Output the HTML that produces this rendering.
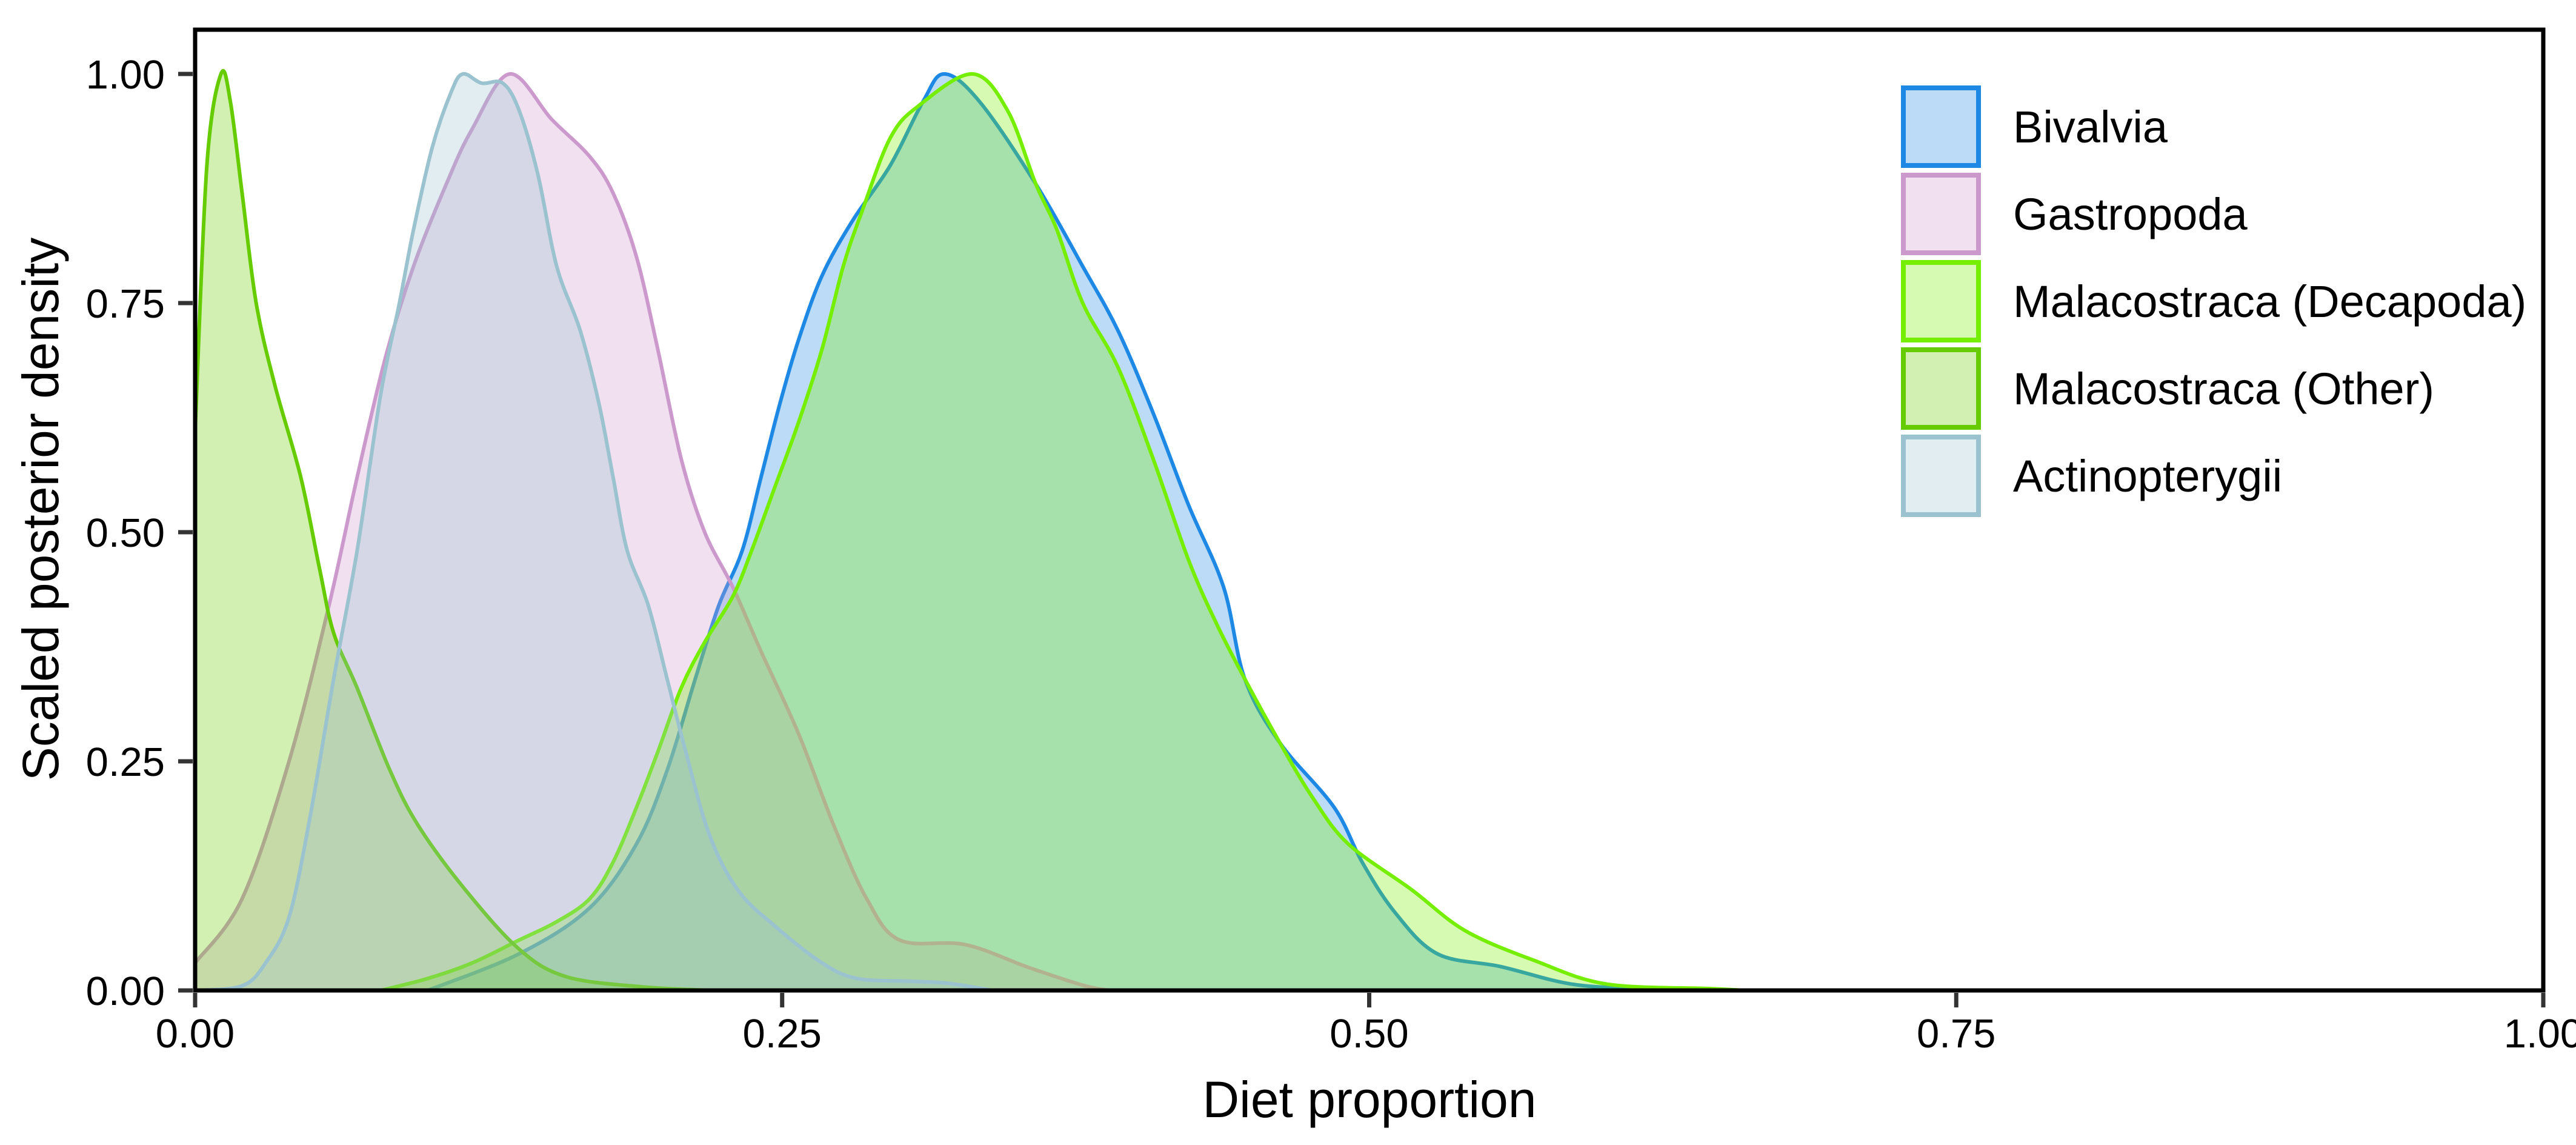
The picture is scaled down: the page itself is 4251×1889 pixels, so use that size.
<!DOCTYPE html>
<html><head><meta charset="utf-8"><style>
html,body{margin:0;padding:0;background:#fff;}
svg{display:block;font-family:"Liberation Sans",Arial,sans-serif;}
</style></head><body>
<svg id="chart" width="4251" height="1889" viewBox="0 0 4251 1889">
<g id="fills"></g>
<rect x="322" y="49" width="3875" height="1585" fill="none" stroke="#000" stroke-width="7"/>
<g id="axes"></g>
<text x="2260" y="1843" font-size="84" text-anchor="middle">Diet proportion</text>
<text transform="translate(96,840) rotate(-90)" font-size="84" text-anchor="middle">Scaled posterior density</text>
<g id="legend"></g>
</svg>
<script>
const seriesNames = ["Bivalvia","Gastropoda","Malacostraca (Decapoda)","Malacostraca (Other)","Actinopterygii"];
const bivalviaX = [0.099,0.138,0.168,0.188,0.201,0.213,0.223,0.233,0.241,0.249,0.257,0.267,0.28,0.296,0.31,0.319,0.334,0.358,0.378,0.393,0.408,0.423,0.438,0.447,0.462,0.485,0.497,0.511,0.529,0.556,0.586,0.615,0.64];
const bivalviaY = [0,0.04,0.09,0.16,0.24,0.34,0.42,0.48,0.56,0.64,0.71,0.78,0.84,0.9,0.97,1.0,0.97,0.88,0.79,0.72,0.63,0.53,0.44,0.34,0.27,0.2,0.14,0.085,0.04,0.026,0.007,0.002,0];
const gastroX = [0,0.02,0.04,0.057,0.069,0.081,0.093,0.107,0.118,0.134,0.152,0.168,0.178,0.188,0.197,0.207,0.217,0.229,0.241,0.257,0.272,0.286,0.3,0.328,0.355,0.379,0.39];
const gastroY = [0.03,0.1,0.25,0.42,0.56,0.69,0.79,0.88,0.94,1.0,0.95,0.91,0.87,0.8,0.7,0.58,0.5,0.44,0.37,0.28,0.18,0.1,0.055,0.05,0.025,0.005,0];
const decaX = [0.079,0.099,0.118,0.138,0.154,0.168,0.178,0.188,0.197,0.207,0.217,0.229,0.237,0.247,0.257,0.267,0.276,0.284,0.296,0.308,0.331,0.346,0.358,0.367,0.378,0.393,0.408,0.423,0.435,0.447,0.462,0.476,0.491,0.518,0.541,0.571,0.601,0.645,0.66];
const decaY = [0,0.013,0.03,0.055,0.075,0.1,0.14,0.2,0.26,0.33,0.38,0.43,0.48,0.55,0.62,0.7,0.79,0.85,0.93,0.965,1.0,0.96,0.88,0.83,0.75,0.68,0.58,0.47,0.4,0.34,0.27,0.21,0.16,0.11,0.065,0.032,0.007,0.002,0];
const otherX = [0,0.005,0.011,0.015,0.02,0.026,0.034,0.045,0.053,0.059,0.069,0.083,0.095,0.115,0.138,0.158,0.19,0.22];
const otherY = [0.61,0.9,1.0,0.97,0.87,0.75,0.66,0.56,0.46,0.39,0.33,0.24,0.18,0.11,0.045,0.015,0.004,0];
const actinoX = [0,0.02,0.03,0.04,0.049,0.059,0.069,0.079,0.087,0.093,0.101,0.109,0.114,0.122,0.131,0.138,0.146,0.154,0.164,0.172,0.178,0.184,0.193,0.201,0.209,0.219,0.231,0.247,0.267,0.282,0.305,0.32,0.34];
const actinoY = [0,0.005,0.03,0.08,0.19,0.34,0.48,0.65,0.75,0.83,0.92,0.98,1.0,0.99,0.99,0.96,0.89,0.79,0.72,0.64,0.56,0.48,0.42,0.34,0.26,0.17,0.11,0.07,0.03,0.013,0.01,0.008,0];
const xTicks = [0,0.25,0.5,0.75,1];
const yTicks = [0,0.25,0.5,0.75,1];
const xTickLabels = ["0.00","0.25","0.50","0.75","1.00"];
const yTickLabels = ["0.00","0.25","0.50","0.75","1.00"];

const strokes = ["#1E88E5","#CC99CC","#76EE00","#66CC00","#9BC2CF"];
const slugs = ["bivalvia","gastropoda","malacostraca-decapoda","malacostraca-other","actinopterygii"];
const NS = "http://www.w3.org/2000/svg";
const X0=322, X1=4197, Y0=1634, Y1=122;
function sx(v){return X0+v*(X1-X0);}
function sy(v){return Y0-v*(Y0-Y1);}
function pathFor(xs,ys){
  const p=xs.map((x,i)=>[sx(x),sy(ys[i])]);
  let d="M"+p[0][0]+","+p[0][1];
  for(let i=0;i<p.length-1;i++){
    const a=p[Math.max(0,i-1)],b=p[i],c=p[i+1],e=p[Math.min(p.length-1,i+2)];
    const c1x=b[0]+(c[0]-a[0])/6, c1y=Math.min(Y0,b[1]+(c[1]-a[1])/6);
    const c2x=c[0]-(e[0]-b[0])/6, c2y=Math.min(Y0,c[1]-(e[1]-b[1])/6);
    d+=" C"+c1x+","+c1y+" "+c2x+","+c2y+" "+c[0]+","+c[1];
  }
  return d;
}
const data=[[bivalviaX,bivalviaY],[gastroX,gastroY],[decaX,decaY],[otherX,otherY],[actinoX,actinoY]];
const fills=document.getElementById("fills");
data.forEach((s,i)=>{
  const line=pathFor(s[0],s[1]);
  const area=document.createElementNS(NS,"path");
  area.setAttribute("d",line+" L"+sx(s[0][s[0].length-1])+","+Y0+" L"+sx(s[0][0])+","+Y0+" Z");
  area.setAttribute("fill",strokes[i]);
  area.setAttribute("fill-opacity","0.3");
  
  
  fills.appendChild(area);
  const ln=document.createElementNS(NS,"path");
  ln.setAttribute("d",line);
  ln.setAttribute("fill","none");
  ln.setAttribute("stroke",strokes[i]);
  ln.setAttribute("stroke-width","6");
  
  
  fills.appendChild(ln);
});
const axes=document.getElementById("axes");
xTicks.forEach((t,i)=>{
  const l=document.createElementNS(NS,"line");
  l.setAttribute("x1",sx(t));l.setAttribute("x2",sx(t));l.setAttribute("y1",Y0+4);l.setAttribute("y2",Y0+28);
  l.setAttribute("stroke","#333");l.setAttribute("stroke-width","7");
  
  
  axes.appendChild(l);
  const tx=document.createElementNS(NS,"text");
  tx.setAttribute("x",sx(t));tx.setAttribute("y",1728);tx.setAttribute("font-size","67");tx.setAttribute("text-anchor","middle");
  tx.textContent=xTickLabels[i];
  
  
  axes.appendChild(tx);
});
yTicks.forEach((t,i)=>{
  const l=document.createElementNS(NS,"line");
  l.setAttribute("x1",X0-28);l.setAttribute("x2",X0-4);l.setAttribute("y1",sy(t));l.setAttribute("y2",sy(t));
  l.setAttribute("stroke","#333");l.setAttribute("stroke-width","7");
  
  
  axes.appendChild(l);
  const tx=document.createElementNS(NS,"text");
  tx.setAttribute("x",272);tx.setAttribute("y",sy(t)+24);tx.setAttribute("font-size","67");tx.setAttribute("text-anchor","end");
  tx.textContent=yTickLabels[i];
  
  
  axes.appendChild(tx);
});
const legend=document.getElementById("legend");
seriesNames.forEach((n,i)=>{
  const y=145+i*144;
  const g=document.createElementNS(NS,"g");
  
  
  const r=document.createElementNS(NS,"rect");
  r.setAttribute("x",3141);r.setAttribute("y",y);r.setAttribute("width",124);r.setAttribute("height",128);
  r.setAttribute("fill",strokes[i]);r.setAttribute("fill-opacity","0.3");
  r.setAttribute("stroke",strokes[i]);r.setAttribute("stroke-width","8");
  
  
  g.appendChild(r);
  const tx=document.createElementNS(NS,"text");
  tx.setAttribute("x",3322);tx.setAttribute("y",y+90);tx.setAttribute("font-size","74");
  tx.textContent=n;
  
  
  g.appendChild(tx);
  legend.appendChild(g);
});
</script>
</body></html>
